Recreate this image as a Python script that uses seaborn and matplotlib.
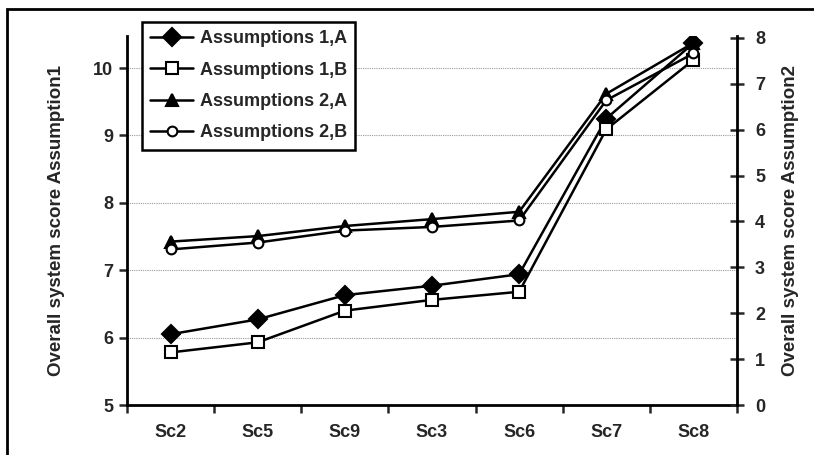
import matplotlib
matplotlib.use("Agg")
import matplotlib.pyplot as plt
import seaborn as sns
import pandas as pd
from matplotlib.patches import Rectangle
from matplotlib.ticker import FixedLocator, NullFormatter

scenarios = ["Sc2", "Sc5", "Sc9", "Sc3", "Sc6", "Sc7", "Sc8"]
assum_1a = [6.05, 6.27, 6.63, 6.77, 6.94, 9.25, 10.37]
assum_1b = [5.78, 5.93, 6.40, 6.56, 6.68, 9.09, 10.12]
assum_2a = [3.56, 3.68, 3.90, 4.05, 4.21, 6.78, 7.89]
assum_2b = [3.39, 3.54, 3.80, 3.88, 4.02, 6.64, 7.66]

df = pd.DataFrame({
    "pos": range(len(scenarios)),
    "Assumptions 1,A": assum_1a,
    "Assumptions 1,B": assum_1b,
    "Assumptions 2,A": assum_2a,
    "Assumptions 2,B": assum_2b,
})

sns.set_style("white")
plt.rcParams["font.family"] = ["Liberation Sans", "DejaVu Sans"]
plt.rcParams["font.weight"] = "bold"

W, H = 814, 455
fig = plt.figure(figsize=(W / 100, H / 100), dpi=100)
ax = fig.add_axes([127 / W, 1 - 405 / H, 610 / W, 369 / H])
ax2 = ax.twinx()

# outer frame of the original figure
fig.patches.append(Rectangle((7 / W, -0.1), 1.2, 1.1 - 9 / H, transform=fig.transFigure,
                             fill=False, edgecolor="black", linewidth=2))

style = {
    "Assumptions 1,A": dict(marker="D", ms=9, mfc="black"),
    "Assumptions 1,B": dict(marker="s", ms=9, mfc="white"),
    "Assumptions 2,A": dict(marker="^", ms=8, mfc="black"),
    "Assumptions 2,B": dict(marker="o", ms=7, mfc="white"),
}

for name in ["Assumptions 1,A", "Assumptions 1,B"]:
    s = style[name]
    sns.lineplot(data=df, x="pos", y=name, ax=ax, color="black", linewidth=1.8,
                 marker=s["marker"], markersize=s["ms"], markerfacecolor=s["mfc"],
                 markeredgecolor="black", markeredgewidth=1.5, label=name, legend=False)
for name in ["Assumptions 2,A", "Assumptions 2,B"]:
    s = style[name]
    sns.lineplot(data=df, x="pos", y=name, ax=ax2, color="black", linewidth=1.8,
                 marker=s["marker"], markersize=s["ms"], markerfacecolor=s["mfc"],
                 markeredgecolor="black", markeredgewidth=1.5, label=name, legend=False)

ax.set_xlim(-0.5, len(scenarios) - 0.5)
ax.set_ylim(5, 10.475)
ax2.set_ylim(0, 8.04)

ax.set_yticks([5, 6, 7, 8, 9, 10])
ax2.set_yticks(range(0, 9))
ax.xaxis.set_major_locator(FixedLocator([i - 0.5 for i in range(len(scenarios) + 1)]))
ax.xaxis.set_major_formatter(NullFormatter())
ax.xaxis.set_minor_locator(FixedLocator(list(range(len(scenarios)))))
ax.set_xticks(range(len(scenarios)), scenarios, minor=True)

ax.grid(axis="y", color="#999999", linestyle=(0, (1, 1)), linewidth=0.8)
ax.set_axisbelow(True)

for a in (ax, ax2):
    for sp in a.spines.values():
        sp.set_linewidth(2)
        sp.set_color("black")
    a.spines["top"].set_visible(False)
ax.spines["right"].set_visible(False)
ax2.spines["left"].set_visible(False)
ax2.spines["bottom"].set_visible(False)

ax.tick_params(axis="y", which="major", direction="out", length=6, width=1.8,
               left=True, labelsize=13, pad=4)
ax.tick_params(axis="x", which="major", direction="out", length=6, width=1.8, bottom=True)
ax.tick_params(axis="x", which="minor", length=0, labelsize=13, pad=14)
ax2.tick_params(axis="y", direction="inout", length=10, width=1.8, right=True,
                labelsize=13, pad=8)

for lab in ax.get_yticklabels() + ax2.get_yticklabels() + ax.get_xticklabels(minor=True):
    lab.set_fontweight("bold")

ax.set_xlabel("")
ax.set_ylabel("Overall system score Assumption1", fontsize=13.5, fontweight="bold", labelpad=20)
ax2.set_ylabel("Overall system score Assumption2", fontsize=13.5, fontweight="bold", labelpad=12)

h1, l1 = ax.get_legend_handles_labels()
h2, l2 = ax2.get_legend_handles_labels()
leg = ax2.legend(h1 + h2, l1 + l2, loc="upper left", bbox_to_anchor=(142 / W, 1 - 22 / H),
                 bbox_transform=fig.transFigure, borderaxespad=0, frameon=True,
                 fancybox=False, edgecolor="black", framealpha=1, handlelength=2.4,
                 labelspacing=0.8, borderpad=0.45, handletextpad=0.35,
                 prop={"size": 13, "weight": "bold"})
leg.get_frame().set_linewidth(1.8)
leg.set_zorder(10)

fig.savefig("out.png", dpi=100)
